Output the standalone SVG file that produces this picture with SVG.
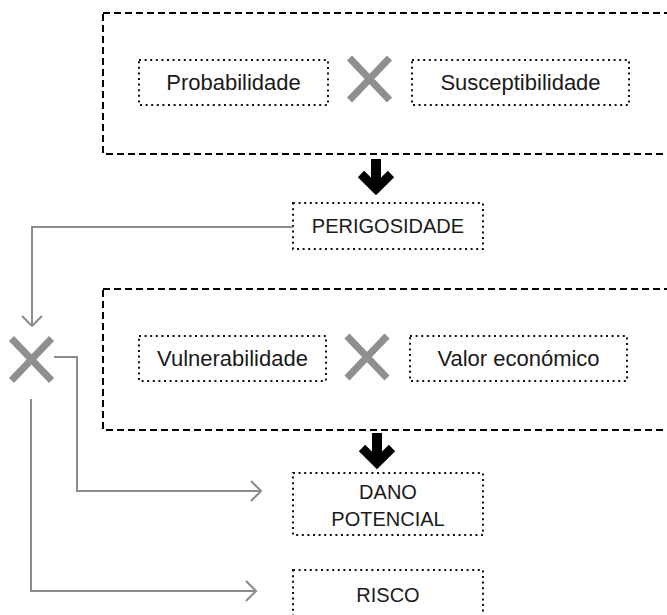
<svg xmlns="http://www.w3.org/2000/svg" width="667" height="615" viewBox="0 0 667 615">
<defs>
<style>
.dash{fill:none;stroke:#000;stroke-width:2;stroke-dasharray:7 4}
.dot{fill:none;stroke:#111;stroke-width:2;stroke-dasharray:2 3.6}
.lbl{font-family:"Liberation Sans",Arial,sans-serif;font-size:22px;fill:#1a1a1a;text-anchor:middle}
.cap{font-size:20px}
.times{stroke:#8f8f8f;stroke-width:7;fill:none}
.conn{fill:none;stroke:#8c8c8c;stroke-width:2}
.big{fill:none;stroke:#000;stroke-width:9}
</style>
<marker id="open" viewBox="0 0 12 22" refX="11" refY="11" markerWidth="12" markerHeight="22" markerUnits="userSpaceOnUse" orient="auto">
<path d="M1,1 L11,11 L1,21" fill="none" stroke="#8c8c8c" stroke-width="2"/>
</marker>
<g id="xmark"><path class="times" d="M-20,-21 L20,21 M20,-21 L-20,21"/></g>
</defs>
<rect width="667" height="615" fill="#fff"/>

<g id="hazard-group">
<rect class="dash" x="103" y="13" width="600" height="141"/>
</g>
<g id="probabilidade">
<rect class="dot" x="139" y="60" width="189" height="45"/>
<text class="lbl" x="233.5" y="90">Probabilidade</text>
</g>
<g id="times1"><use href="#xmark" x="369.5" y="79"/></g>
<g id="susceptibilidade">
<rect class="dot" x="412" y="60" width="217" height="45"/>
<text class="lbl" x="520.5" y="90">Susceptibilidade</text>
</g>
<g id="perigosidade">
<rect class="dot" x="293" y="203" width="190" height="46"/>
<text class="lbl cap" x="388" y="233">PERIGOSIDADE</text>
</g>

<g id="damage-group">
<rect class="dash" x="103" y="289" width="600" height="141"/>
</g>
<g id="vulnerabilidade">
<rect class="dot" x="139" y="336" width="187" height="45"/>
<text class="lbl" x="232.5" y="366">Vulnerabilidade</text>
</g>
<g id="times2"><use href="#xmark" x="367" y="357"/></g>
<g id="valor">
<rect class="dot" x="410" y="336" width="217" height="45"/>
<text class="lbl" x="518.5" y="366">Valor económico</text>
</g>

<g id="times3"><use href="#xmark" x="31.5" y="359.5"/></g>

<g id="dano">
<rect class="dot" x="293" y="473" width="190" height="62"/>
<text class="lbl cap" x="388" y="499">DANO</text>
<text class="lbl cap" x="388" y="526">POTENCIAL</text>
</g>
<g id="risco">
<rect class="dot" x="293" y="570" width="190" height="60"/>
<text class="lbl cap" x="388" y="602">RISCO</text>
</g>

<g id="connectors">
<path class="conn" d="M293,227 H32 V326" marker-end="url(#open)"/>
<path class="conn" d="M54,357 H77 V491 H261" marker-end="url(#open)"/>
<path class="conn" d="M31,399 V591 H256" marker-end="url(#open)"/>
<path d="M376,159 V186" stroke="#000" stroke-width="10" fill="none"/>
<path class="big" d="M361,174 L376,189 L391,174"/>
<path d="M377,433 V460" stroke="#000" stroke-width="10" fill="none"/>
<path class="big" d="M362,448 L377,463 L392,448"/>
</g>
</svg>
